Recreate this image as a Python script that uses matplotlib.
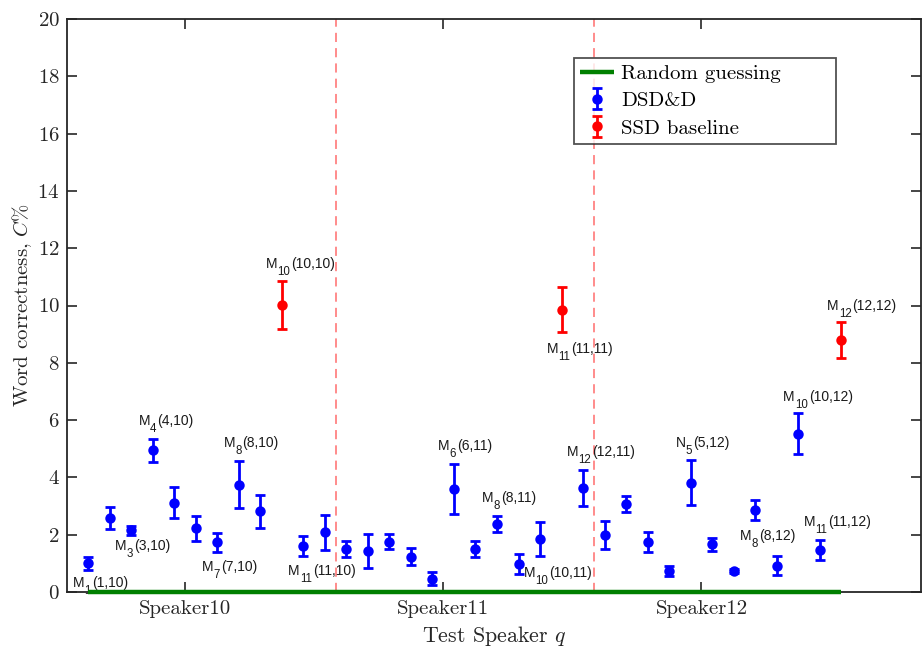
import numpy as np
import matplotlib
matplotlib.use("Agg")
import matplotlib.pyplot as plt

plt.rcParams['font.family'] = ['cmr10', 'DejaVu Serif']
plt.rcParams['mathtext.fontset'] = 'cm'
plt.rcParams['axes.formatter.use_mathtext'] = True

# ---- data ----
speakers = ["Speaker10", "Speaker11", "Speaker12"]
speaker_ticks = [5.5, 17.5, 29.5]
group_bounds = [12.5, 24.5]

dsd_x = [1, 2, 3, 4, 5, 6, 7, 8, 9, 11, 12,
         13, 14, 15, 16, 17, 18, 19, 20, 21, 22, 24,
         25, 26, 27, 28, 29, 30, 31, 32, 33, 34, 35]
dsd_y = [1.00, 2.59, 2.15, 4.95, 3.12, 2.22, 1.73, 3.74, 2.82, 1.61, 2.08,
         1.50, 1.42, 1.75, 1.23, 0.46, 3.60, 1.49, 2.37, 0.98, 1.84, 3.63,
         1.99, 3.07, 1.75, 0.73, 3.82, 1.67, 0.73, 2.86, 0.92, 5.53, 1.46]
dsd_err = [0.22, 0.38, 0.16, 0.40, 0.54, 0.43, 0.33, 0.82, 0.57, 0.35, 0.60,
           0.27, 0.59, 0.26, 0.29, 0.23, 0.88, 0.28, 0.28, 0.36, 0.60, 0.62,
           0.48, 0.29, 0.35, 0.18, 0.78, 0.23, 0.08, 0.34, 0.32, 0.71, 0.36]

ssd_x = [10, 23, 36]
ssd_y = [10.03, 9.86, 8.80]
ssd_err = [0.84, 0.78, 0.63]

random_x = [1, 36]
random_y = [0, 0]

# annotations: (x index, letter, subscript, pair, dx px, dy px) -- text left / baseline offset
annotations = [
    (1, "M", "1", "(1,10)", -15, -24),
    (3, "M", "3", "(3,10)", -16, -20),
    (4, "M", "4", "(4,10)", -14, 25),
    (7, "M", "7", "(7,10)", -15, -29),
    (8, "M", "8", "(8,10)", -15, 38),
    (10, "M", "10", "(10,10)", -16, 37),
    (11, "M", "11", "(11,10)", -15, -29),
    (18, "M", "6", "(6,11)", -16, 39),
    (20, "M", "8", "(8,11)", -15, 22),
    (21, "M", "10", "(10,11)", 5, -13),
    (23, "M", "11", "(11,11)", -15, -43),
    (24, "M", "12", "(12,11)", -16, 32),
    (29, "N", "5", "(5,12)", -15, 36),
    (33, "M", "8", "(8,12)", -37, 26),
    (34, "M", "10", "(10,12)", -15, 33),
    (35, "M", "11", "(11,12)", -16, 24),
    (36, "M", "12", "(12,12)", -14, 30),
]

fig = plt.figure(figsize=(9.22, 6.54), dpi=100)
W, H = 922, 654
L, R, T, B = 66.5, 921, 19, 592
ax = fig.add_axes([L / W, (H - B) / H, (R - L) / W, (B - T) / H])

spine_col = "#262626"
for v in group_bounds:
    ax.axvline(v, color="#ff5c5c", lw=1.1, ls=(0, (6, 4)), alpha=0.9, zorder=1)

ax.plot(random_x, random_y, color="#008000", lw=3.2, label="Random guessing",
        zorder=4, clip_on=False, solid_capstyle="butt")
ax.errorbar(dsd_x, dsd_y, yerr=dsd_err, fmt="o", color="#0000ff", ms=5.5,
            mew=2, mfc="#0000ff", elinewidth=2, capsize=3.8, capthick=2,
            label="DSD&D", zorder=3)
ax.errorbar(ssd_x, ssd_y, yerr=ssd_err, fmt="o", color="#ff0000", ms=5.5,
            mew=2, mfc="#ff0000", elinewidth=2, capsize=3.8, capthick=2,
            label="SSD baseline", zorder=3)

sans = ["Liberation Sans", "DejaVu Sans"]
allx = list(dsd_x) + list(ssd_x)
ally = list(dsd_y) + list(ssd_y)
for idx, let, sub, pair, dx, dy in annotations:
    yv = ally[allx.index(idx)]
    t1 = ax.annotate(let, (idx, yv), xytext=(dx, dy), textcoords="offset pixels",
                     ha="left", va="baseline", fontsize=10, family=sans,
                     color="#1a1a1a")
    t2 = ax.annotate(sub, xy=(1, 0), xycoords=t1, xytext=(0, -4),
                     textcoords="offset pixels", ha="left", va="baseline",
                     fontsize=8.3, family=sans, color="#1a1a1a")
    ax.annotate(pair, xy=(1, 0), xycoords=(t2, t1), xytext=(1, 0),
                textcoords="offset pixels", ha="left", va="bottom",
                fontsize=10, family=sans, color="#1a1a1a")

ax.set_xlim(0, 39.7)
ax.set_ylim(0, 20)
ax.set_yticks(np.arange(0, 21, 2))
ax.set_xticks(speaker_ticks)
ax.set_xticklabels(speakers)
ax.tick_params(axis="both", direction="in", length=7, width=1.2, colors=spine_col,
               labelsize=15, top=True, right=True, labelcolor="#262626")
ax.tick_params(axis="x", pad=6)
ax.tick_params(axis="y", pad=5)
for s in ax.spines.values():
    s.set_color(spine_col)
    s.set_linewidth(1.3)

ax.set_xlabel(r"Test Speaker $q$", fontsize=15.8, color="#262626")
ax.xaxis.set_label_coords(0.5, -(642 - B) / (B - T))
ax.xaxis.label.set_va("baseline")
ax.set_ylabel(r"Word correctness, $C\%$", fontsize=15, color="#262626")
ax.yaxis.set_label_coords(-(L - 22) / (R - L), 0.5)
ax.yaxis.label.set_va("center")

x0 = (574 - L) / (R - L)
y1 = (B - 58) / (B - T)
wleg = (836 - 574) / (R - L)
hleg = (140 - 58) / (B - T)
leg = ax.legend(loc="upper left", bbox_to_anchor=(x0, y1 - hleg, wleg, hleg),
                mode="expand", fontsize=15, frameon=True, fancybox=False,
                edgecolor="#262626", borderpad=0.3, labelspacing=0.42,
                handlelength=1.6, handletextpad=0.35, borderaxespad=0)
leg.get_frame().set_linewidth(1.3)

fig.savefig("out.png", dpi=100)
